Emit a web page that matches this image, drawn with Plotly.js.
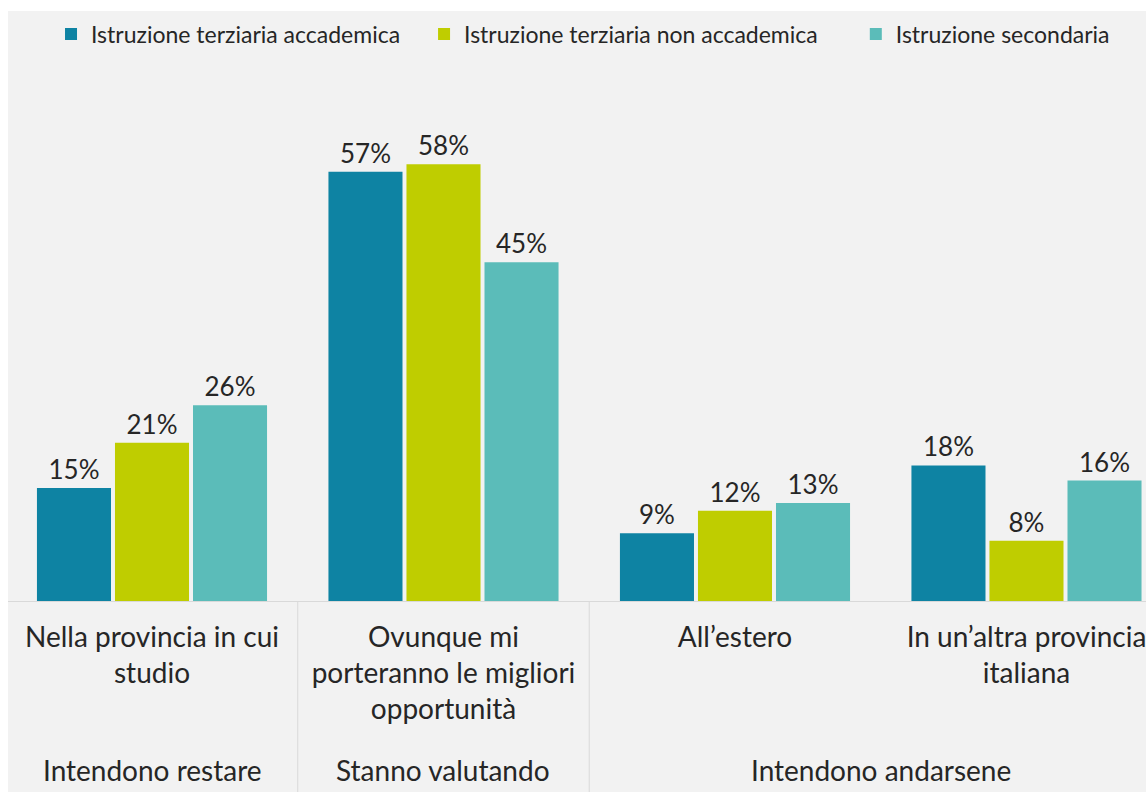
<!DOCTYPE html>
<html>
<head>
<meta charset="utf-8">
<script src="https://cdn.plot.ly/plotly-3.0.1.min.js"></script>
<style>html,body{margin:0;padding:0;background:#fff;}#chart{width:1146px;height:792px;}</style>
</head>
<body>
<div id="chart"></div>
<script>
const categories = ['Nella provincia in cui<br>studio', 'Ovunque mi<br>porteranno le migliori<br>opportunità', 'All’estero', 'In un’altra provincia<br>italiana'];
const groupLabels = ['Intendono restare', 'Stanno valutando', 'Intendono andarsene'];
const groupPositions = [0, 1, 2.5];
const seriesNames = ['Istruzione terziaria accademica', 'Istruzione terziaria non accademica', 'Istruzione secondaria'];
const accademica = [15, 57, 9, 18];
const nonAccademica = [21, 58, 12, 8];
const secondaria = [26, 45, 13, 16];
const colors = ['#0E83A3', '#BFCD00', '#5BBCB9'];

const FONT = 'Lato, "Open Sans", sans-serif';
const TXT = '#262626';
const seriesValues = [accademica, nonAccademica, secondaria];
const legendIds = ['legend', 'legend2', 'legend3'];

const traces = seriesValues.map((vals, i) => ({
  type: 'bar',
  name: seriesNames[i],
  x: categories,
  y: vals,
  text: vals.map(v => v + '%'),
  textposition: 'outside',
  textfont: {family: FONT, size: 26, color: TXT},
  cliponaxis: false,
  marker: {color: colors[i], line: {width: 0}},
  hoverinfo: 'skip',
  legend: legendIds[i]
}));

const H = 792, T = 80, B = 191, L = 8;
const plotH = H - T - B;
const py = p => (601 - p) / plotH;

const legendX = [0.0378, 0.3656, 0.745];
const legends = {};
legendIds.forEach((id, i) => {
  legends[id] = {
    orientation: 'h', x: legendX[i], xanchor: 'left', y: py(34), yanchor: 'middle',
    font: {family: FONT, size: 23, color: TXT}, bgcolor: 'rgba(0,0,0,0)', borderwidth: 0
  };
});

const shapes = [
  {type: 'rect', xref: 'paper', yref: 'paper', x0: 0, x1: 1.01, y0: py(792), y1: py(11),
   fillcolor: '#F2F2F2', line: {width: 0}, layer: 'below'},
  {type: 'line', xref: 'x', yref: 'paper', x0: 0.5, x1: 0.5, y0: 0, y1: py(792), line: {color: '#D9D9D9', width: 1}},
  {type: 'line', xref: 'x', yref: 'paper', x0: 1.5, x1: 1.5, y0: 0, y1: py(792), line: {color: '#D9D9D9', width: 1}}
];

const annotations = groupLabels.map((g, i) => ({
  text: g, xref: 'x', yref: 'paper', x: groupPositions[i], y: py(770),
  xanchor: 'center', yanchor: 'middle', showarrow: false,
  font: {family: FONT, size: 28, color: TXT}
}));

const layout = Object.assign({
  width: 1146, height: H,
  margin: {l: L, r: 0, t: T, b: B},
  paper_bgcolor: '#FFFFFF',
  plot_bgcolor: 'rgba(0,0,0,0)',
  barmode: 'group',
  bargap: 0.197,
  bargroupgap: 0.051,
  showlegend: true,
  xaxis: {
    type: 'category', range: [-0.494, 3.41], fixedrange: true,
    showgrid: false, zeroline: false, showline: true, linecolor: '#D9D9D9', linewidth: 1,
    ticks: '', ticklabelstandoff: 11,
    tickfont: {family: FONT, size: 28, color: TXT}
  },
  yaxis: {
    range: [0, plotH / 7.53], visible: false, showgrid: false, zeroline: false, fixedrange: true
  },
  shapes: shapes,
  annotations: annotations
}, legends);

Plotly.newPlot('chart', traces, layout, {displayModeBar: false, staticPlot: true});
</script>
</body>
</html>
